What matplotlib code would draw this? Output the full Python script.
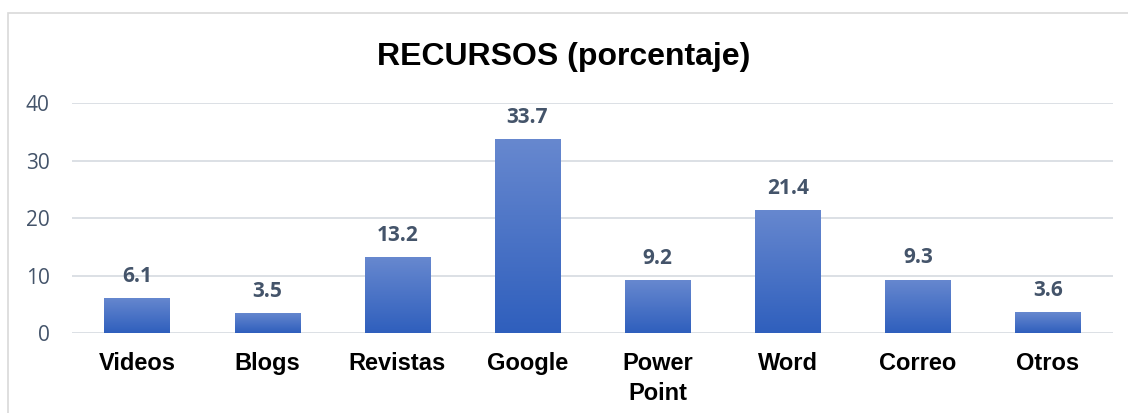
"""Bar chart: RECURSOS (porcentaje)
"""
import matplotlib.pyplot as plt
import matplotlib.patches as mpatches
from matplotlib.colors import LinearSegmentedColormap
import numpy as np

categories = ["Videos", "Blogs", "Revistas", "Google", "Power\nPoint", "Word", "Correo", "Otros"]
values = [6.1, 3.5, 13.2, 33.7, 9.2, 21.4, 9.3, 3.6]
yticks = [0, 10, 20, 30, 40]

fig = plt.figure(figsize=(11.28, 4.13), dpi=100)
ax = fig.add_axes([0.0638, 0.1937, 0.9229, 0.5569])

# chart frame
fig.patches.append(mpatches.Rectangle((8 / 1128, -0.01), 1.02, 1 - 13 / 413 + 0.01,
                                      transform=fig.transFigure, fill=False,
                                      edgecolor="#D9D9D9", linewidth=1.2))

xs = np.arange(len(categories))
bars = ax.bar(xs, values, width=0.5, color="#4472C4", zorder=2)

# vertical gradient inside each bar
grad = np.linspace(0, 1, 256).reshape(-1, 1)
cmap = LinearSegmentedColormap.from_list("g", ["#2F5FBD", "#6788CF"])
for b in bars:
    x0, w, h = b.get_x(), b.get_width(), b.get_height()
    im = ax.imshow(grad, extent=(x0, x0 + w, 0, h), origin="lower", cmap=cmap,
                   aspect="auto", zorder=3)
    im.set_clip_path(b)
    b.set_facecolor("none")

for x, v in zip(xs, values):
    ax.annotate(f"{v}", (x, v), xytext=(0, 8), textcoords="offset points",
                ha="center", va="bottom", fontsize=15, fontweight="bold",
                color="#44546A", family="Open Sans")

ax.set_xlim(-0.5, len(categories) - 0.5)
ax.set_ylim(0, 40)
ax.set_yticks(yticks)
ax.set_xticks(xs)
ax.set_xticklabels(categories, family="Liberation Sans", fontweight="bold",
                   fontsize=17, color="black", linespacing=1.35)
ax.tick_params(axis="y", labelsize=15, labelcolor="#44546A", length=0, pad=16)
ax.tick_params(axis="x", length=0, pad=14)
for lbl in ax.get_yticklabels():
    lbl.set_family("Open Sans")
ax.grid(axis="y", color="#D9DDE3", linewidth=1.3, zorder=0)
for s in ax.spines.values():
    s.set_visible(False)

fig.text(0.5, 0.863, "RECURSOS (porcentaje)", ha="center", va="center",
         family="Liberation Sans", fontweight="bold", fontsize=23, color="black")

plt.savefig("out.png", dpi=100)
